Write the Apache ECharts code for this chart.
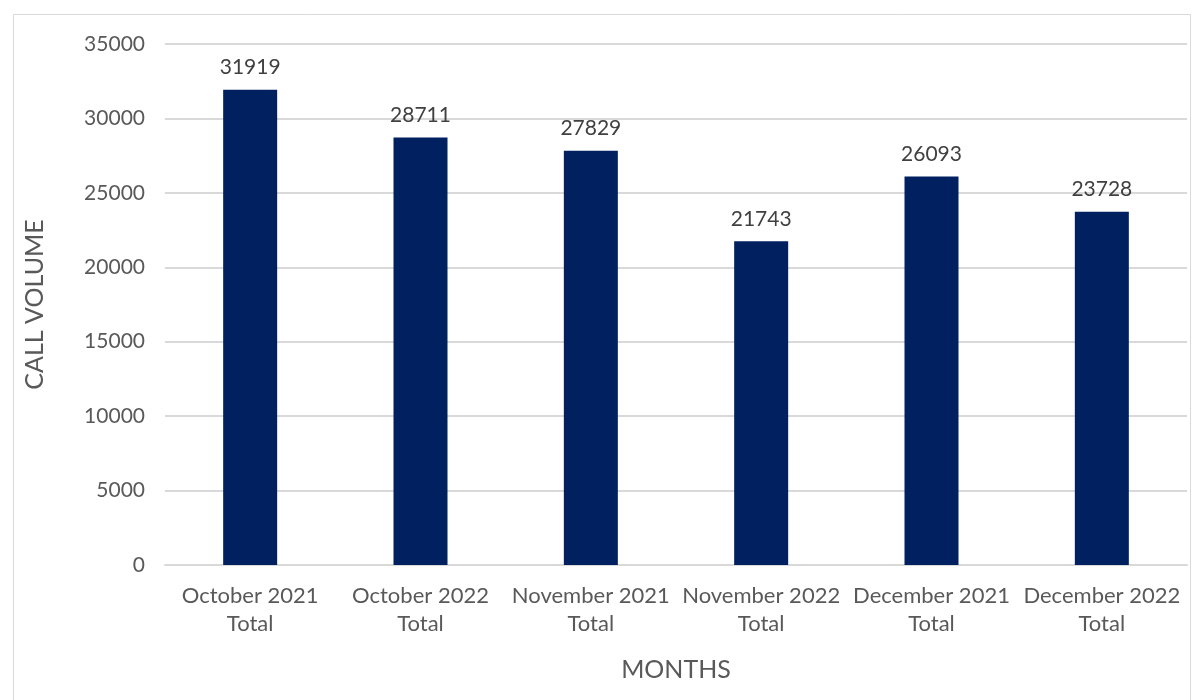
<!DOCTYPE html>
<html>
<head>
<meta charset="utf-8">
<script src="https://cdn.jsdelivr.net/npm/echarts@6/dist/echarts.min.js"></script>
<style>
  html, body { margin: 0; padding: 0; background: #fff; }
  #chart { width: 1202px; height: 700px; }
</style>
</head>
<body>
<div id="chart"></div>
<script>
// Monthly call totals
const months = [
  'October 2021\nTotal', 'October 2022\nTotal',
  'November 2021\nTotal', 'November 2022\nTotal',
  'December 2021\nTotal', 'December 2022\nTotal'
];
const callVolume = [31919, 28711, 27829, 21743, 26093, 23728];
const yTicks = { min: 0, max: 35000, interval: 5000 };

const FONT = 'Lato, "Open Sans", sans-serif';
const chart = echarts.init(document.getElementById('chart'));
chart.setOption({
  backgroundColor: '#ffffff',
  animation: false,
  graphic: [{
    type: 'rect',
    shape: { x: 13.5, y: 14.5, width: 1177, height: 700 },
    style: { fill: 'none', stroke: '#d9d9d9', lineWidth: 1 },
    silent: true
  }],
  grid: { left: 165, right: 15, top: 44, bottom: 135 },
  xAxis: {
    type: 'category',
    data: months,
    name: 'MONTHS',
    nameLocation: 'middle',
    nameGap: 92,
    nameTextStyle: { fontFamily: FONT, fontSize: 25, color: '#595959' },
    axisLine: { show: true, lineStyle: { color: '#d9d9d9', width: 2 } },
    axisTick: { show: false },
    axisLabel: {
      fontFamily: FONT, fontSize: 22, color: '#595959',
      lineHeight: 28, margin: 17, interval: 0
    }
  },
  yAxis: {
    type: 'value',
    min: yTicks.min, max: yTicks.max, interval: yTicks.interval,
    name: 'CALL VOLUME',
    nameLocation: 'middle',
    nameGap: 118,
    nameTextStyle: { fontFamily: FONT, fontSize: 25, color: '#595959' },
    axisLine: { show: false },
    axisTick: { show: false },
    axisLabel: {
      fontFamily: FONT, fontSize: 21, color: '#595959', margin: 20,
      formatter: v => String(v)
    },
    splitLine: { lineStyle: { color: '#d9d9d9', width: 2 } }
  },
  series: [{
    type: 'bar',
    data: callVolume,
    barWidth: 54,
    itemStyle: { color: '#002060' },
    label: {
      show: true, position: 'top', distance: 12,
      fontFamily: FONT, fontSize: 21, color: '#404040'
    }
  }]
});
</script>
</body>
</html>
